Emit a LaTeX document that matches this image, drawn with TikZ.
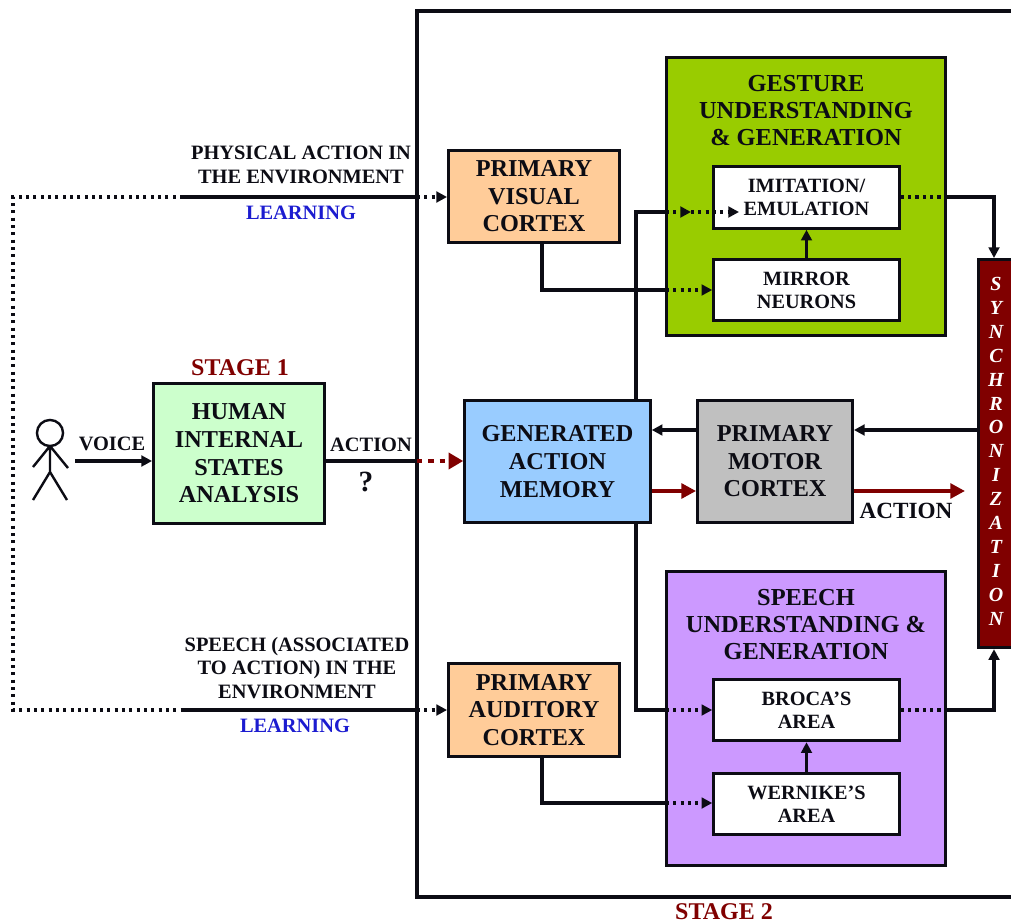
\documentclass[tikz,border=0pt]{standalone}
\usepackage{fontspec}
\setmainfont{Liberation Serif}
\usetikzlibrary{arrows.meta,calc}
\definecolor{dred}{HTML}{800000}
\definecolor{lblue}{HTML}{1C1CD0}
\definecolor{cgreen}{HTML}{99CC00}
\definecolor{cpurple}{HTML}{CC99FF}
\definecolor{corange}{HTML}{FFCC99}
\definecolor{cblue}{HTML}{99CCFF}
\definecolor{cgray}{HTML}{C0C0C0}
\definecolor{clight}{HTML}{CCFFCC}
\definecolor{ink}{HTML}{0C0C14}
\tikzset{
  px/.style={x=0.75pt,y=-0.75pt},
  box/.style={draw=ink,line width=2.4pt,inner sep=0pt,align=center,font=\bfseries\fontsize{18.2}{20.7}\selectfont,text=ink},
  inbox/.style={box,fill=white,minimum width=139pt,minimum height=46pt,font=\bfseries\fontsize{15.2}{17.4}\selectfont},
  title/.style={inner sep=0pt,align=center,font=\bfseries\fontsize{18.3}{20}\selectfont,text=ink},
  lab/.style={inner sep=0pt,align=center,font=\bfseries\fontsize{15.3}{17.6}\selectfont,text=ink},
  learn/.style={lab,text=lblue},
  stagelab/.style={inner sep=0pt,font=\bfseries\fontsize{18}{18}\selectfont,text=dred},
  line/.style={line width=2.35pt,draw=ink,line join=miter},
  arr/.style={line,-{Triangle[length=8pt,width=8pt]}},
  dots/.style={line width=2.3pt,draw=ink,dash pattern=on 2.3pt off 3.2pt},
  darr/.style={dots,-{Triangle[length=8pt,width=8pt,sep=0pt]}},
  redarr/.style={line width=3.2pt,draw=dred,-{Triangle[length=11pt,width=11pt]}},
}
\begin{document}
\begin{tikzpicture}[px]
\useasboundingbox (0,0) rectangle (1011,924);
\clip (0,0) rectangle (1011,924);
\fill[white] (0,0) rectangle (1011,924);
% stage 2 frame
\draw[line width=2.35pt,draw=ink] (1030,11) -- (417,11) -- (417,897) -- (1030,897);
% containers
\node[box,fill=cgreen,minimum width=209pt,minimum height=208pt] (gest) at (806,196.5) {};
\node[box,fill=cpurple,minimum width=209pt,minimum height=220pt] (speech) at (806,718.5) {};
\node[title] (gesttxt) at (806,110.5) {GESTURE\\UNDERSTANDING\\\& GENERATION};
\node[title] (speechtxt) at (806,624.5) {SPEECH\\UNDERSTANDING \&\\GENERATION};
% inner boxes
\node[inbox] (imit) at (806.5,197.5) {IMITATION/\\EMULATION};
\node[inbox] (mirror) at (806.5,290) {MIRROR\\NEURONS};
\node[inbox] (broca) at (806.5,710) {BROCA’S\\AREA};
\node[inbox] (wern) at (806.5,804) {WERNIKE’S\\AREA};
% main boxes
\node[box,fill=corange,minimum width=128pt,minimum height=69pt] (vis) at (534,196.5) {PRIMARY\\VISUAL\\CORTEX};
\node[box,fill=corange,minimum width=128pt,minimum height=70pt] (aud) at (534,710) {PRIMARY\\AUDITORY\\CORTEX};
\node[box,fill=cblue,minimum width=139pt,minimum height=92pt] (gen) at (557.5,461.5) {GENERATED\\ACTION\\MEMORY};
\node[box,fill=cgray,minimum width=116pt,minimum height=92pt] (motor) at (775,461.5) {PRIMARY\\MOTOR\\CORTEX};
\node[box,fill=clight,minimum width=128pt,minimum height=105pt] (human) at (239,453.5) {HUMAN\\INTERNAL\\STATES\\ANALYSIS};
\node[draw=ink,line width=2.4pt,fill=dred,minimum width=40pt,minimum height=291pt,inner sep=0pt,anchor=north west] (sync) at (977,258) {};
\foreach \l [count=\i from 0] in {S,Y,N,C,H,R,O,N,I,Z,A,T,I,O,N}
  \node[inner sep=0pt,text=white,font=\bfseries\itshape\fontsize{15}{15}\selectfont] (s\i) at (996,{284+\i*23.9}) {\l};
% stick figure
\coordinate (neck) at (50,446);
\coordinate (hip) at (50,472);
\coordinate (larm) at (33,467);
\coordinate (rarm) at (68,468);
\coordinate (lleg) at (33,500);
\coordinate (rleg) at (67,500);
\draw[line width=1.8pt,draw=ink] (50,433) circle (9.8pt);
\draw[line width=1.8pt,draw=ink,line join=round] (larm) -- (neck) -- (rarm) (neck) -- (hip) (lleg) -- (hip) -- (rleg);
% voice
\coordinate (vstart) at (75,461);
\draw[arr] (vstart) -- (human.west |- vstart);
% action
\coordinate (fr) at (417,461);
\draw[line] (human.east |- fr) -- (fr);
\draw[draw=dred,line width=3.4pt,dash pattern=on 4pt off 4.5pt,-{Triangle[length=11pt,width=12pt,sep=0pt]}] (fr) -- (gen.west |- fr);
% top path
\coordinate (tl) at (13,197);
\coordinate (tm) at (183,197);
\coordinate (tf) at (417,197);
\coordinate (bl) at (13,710);
\coordinate (bm) at (183,710);
\coordinate (bf) at (417,710);
\draw[dots] (tm) -- (tl) -- (bl) -- (bm);
\draw[line] (tm) -- (tf);
\draw[line] (bm) -- (bf);
\draw[darr] (tf) -- (vis.west |- tf);
\draw[darr] (bf) -- (aud.west |- bf);
% visual -> mirror
\coordinate (c1) at (542,290);
\coordinate (c1g) at (666,290);
\draw[line] (vis.south -| c1) -- (c1) -- (c1g);
\draw[darr] (c1g) -- (mirror.west);
% gen -> imitation
\coordinate (c2) at (636,212);
\coordinate (c2g) at (666,212);
\coordinate (c2m) at (691,212);
\coordinate (c2e) at (739,212);
\draw[line] (gen.north -| c2) -- (c2) -- (c2g);
\draw[darr] (c2g) -- (c2m);
\draw[darr] (c2m) -- (c2e);
% gen -> broca
\coordinate (c3) at (636,710);
\coordinate (c3g) at (666,710);
\draw[line] (gen.south -| c3) -- (c3) -- (c3g);
\draw[darr] (c3g) -- (broca.west);
% auditory -> wernike
\coordinate (c4) at (542,803);
\coordinate (c4g) at (666,803);
\draw[line] (aud.south -| c4) -- (c4) -- (c4g);
\draw[darr] (c4g) -- (wern.west |- c4);
% internal arrows
\draw[arr] (mirror.north) -- (imit.south);
\draw[arr] (wern.north) -- (broca.south);
% imitation -> sync
\coordinate (c5) at (946,197);
\coordinate (c5c) at (994,197);
\draw[dots] (imit.east |- c5) -- (c5);
\draw[arr] (c5) -- (c5c) -- (sync.north -| c5c);
% broca -> sync
\coordinate (c6) at (946,710);
\coordinate (c6c) at (994,710);
\draw[dots] (broca.east) -- (c6);
\draw[arr] (c6) -- (c6c) -- (sync.south -| c6c);
% sync -> motor -> gen
\coordinate (c7) at (977,430);
\draw[arr] (c7) -- (motor.east |- c7);
\draw[arr] (motor.west |- c7) -- (gen.east |- c7);
% red arrows
\coordinate (c8) at (651,491);
\coordinate (c9) at (965,491);
\draw[redarr] (gen.east |- c8) -- (motor.west |- c8);
\draw[redarr] (motor.east |- c8) -- (c9);
% labels
\node[lab] (l1) at (301,165) {PHYSICAL ACTION IN\\THE ENVIRONMENT};
\node[learn] (l2) at (301,213) {LEARNING};
\node[lab] (l3) at (297,668) {SPEECH (ASSOCIATED\\TO ACTION) IN THE\\ENVIRONMENT};
\node[learn] (l4) at (295,726) {LEARNING};
\node[lab] (l5) at (112,444) {VOICE};
\node[lab] (l6) at (371,445) {ACTION};
\node[inner sep=0pt,font=\bfseries\fontsize{22}{22}\selectfont,text=ink] (l7) at (366,482) {?};
\node[lab,font=\bfseries\fontsize{17.4}{18}\selectfont] (l8) at (906,511) {ACTION};
\node[stagelab] (st1) at (240,368) {STAGE 1};
\node[stagelab] (st2) at (724,912) {STAGE 2};
\end{tikzpicture}
\end{document}
